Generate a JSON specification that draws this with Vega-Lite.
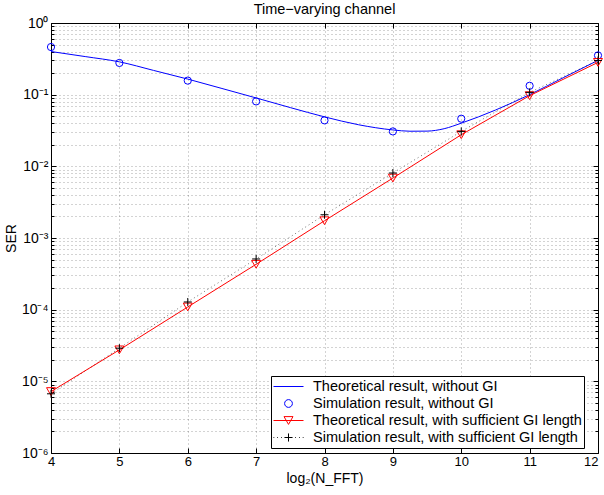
{
  "$schema": "https://vega.github.io/schema/vega-lite/v6.json",
  "width": 547,
  "height": 430,
  "autosize": {"type": "none"},
  "padding": {"left": 51, "top": 23, "right": 6, "bottom": 42},
  "title": {"text": "Time−varying channel", "fontSize": 14.5, "fontWeight": "normal", "font": "Liberation Sans", "color": "#000", "anchor": "middle", "offset": -1},
  "config": {
    "font": "Liberation Sans",
    "view": {"stroke": "#000", "strokeWidth": 1},
    "axis": {
      "labelFont": "Liberation Sans", "labelFontSize": 14, "labelColor": "#000",
      "titleFont": "Liberation Sans", "titleFontSize": 14, "titleFontWeight": "normal", "titleColor": "#000",
      "tickColor": "#000", "tickWidth": 1, "domain": false,
      "gridColor": "#000", "gridOpacity": 0.35, "gridDash": [1, 3], "gridWidth": 1,
      "labelFlush": false, "labelOverlap": false
    }
  },
  "data": {
    "values": [
      {"series": "Theoretical result, without GI", "x": 4, "y": 0.40},
      {"series": "Theoretical result, without GI", "x": 4.5, "y": 0.34},
      {"series": "Theoretical result, without GI", "x": 5, "y": 0.287},
      {"series": "Theoretical result, without GI", "x": 5.5, "y": 0.218},
      {"series": "Theoretical result, without GI", "x": 6, "y": 0.165},
      {"series": "Theoretical result, without GI", "x": 6.5, "y": 0.122},
      {"series": "Theoretical result, without GI", "x": 7, "y": 0.090},
      {"series": "Theoretical result, without GI", "x": 7.5, "y": 0.066},
      {"series": "Theoretical result, without GI", "x": 8, "y": 0.049},
      {"series": "Theoretical result, without GI", "x": 8.5, "y": 0.038},
      {"series": "Theoretical result, without GI", "x": 9, "y": 0.0322},
      {"series": "Theoretical result, without GI", "x": 9.25, "y": 0.0309},
      {"series": "Theoretical result, without GI", "x": 9.5, "y": 0.031},
      {"series": "Theoretical result, without GI", "x": 9.75, "y": 0.0335},
      {"series": "Theoretical result, without GI", "x": 10, "y": 0.040},
      {"series": "Theoretical result, without GI", "x": 10.5, "y": 0.061},
      {"series": "Theoretical result, without GI", "x": 11, "y": 0.100},
      {"series": "Theoretical result, without GI", "x": 11.5, "y": 0.174},
      {"series": "Theoretical result, without GI", "x": 12, "y": 0.301},
      {"series": "Simulation result, without GI", "x": 4, "y": 0.462},
      {"series": "Simulation result, without GI", "x": 5, "y": 0.277},
      {"series": "Simulation result, without GI", "x": 6, "y": 0.157},
      {"series": "Simulation result, without GI", "x": 7, "y": 0.0805},
      {"series": "Simulation result, without GI", "x": 8, "y": 0.0438},
      {"series": "Simulation result, without GI", "x": 9, "y": 0.0307},
      {"series": "Simulation result, without GI", "x": 10, "y": 0.0462},
      {"series": "Simulation result, without GI", "x": 11, "y": 0.133},
      {"series": "Simulation result, without GI", "x": 12, "y": 0.353},
      {"series": "Theoretical result, with sufficient GI length", "x": 4, "y": 0.0000072},
      {"series": "Theoretical result, with sufficient GI length", "x": 5, "y": 0.0000275},
      {"series": "Theoretical result, with sufficient GI length", "x": 6, "y": 0.000109},
      {"series": "Theoretical result, with sufficient GI length", "x": 7, "y": 0.00043},
      {"series": "Theoretical result, with sufficient GI length", "x": 8, "y": 0.00174},
      {"series": "Theoretical result, with sufficient GI length", "x": 9, "y": 0.00686},
      {"series": "Theoretical result, with sufficient GI length", "x": 10, "y": 0.0276},
      {"series": "Theoretical result, with sufficient GI length", "x": 11, "y": 0.0968},
      {"series": "Theoretical result, with sufficient GI length", "x": 12, "y": 0.282},
      {"series": "Simulation result, with sufficient GI length", "x": 4, "y": 0.0000067},
      {"series": "Simulation result, with sufficient GI length", "x": 5, "y": 0.000029},
      {"series": "Simulation result, with sufficient GI length", "x": 6, "y": 0.000128},
      {"series": "Simulation result, with sufficient GI length", "x": 7, "y": 0.00051},
      {"series": "Simulation result, with sufficient GI length", "x": 8, "y": 0.00211},
      {"series": "Simulation result, with sufficient GI length", "x": 9, "y": 0.00807},
      {"series": "Simulation result, with sufficient GI length", "x": 10, "y": 0.0307},
      {"series": "Simulation result, with sufficient GI length", "x": 11, "y": 0.1076},
      {"series": "Simulation result, with sufficient GI length", "x": 12, "y": 0.30}
    ]
  },
  "resolve": {"axis": {"x": "independent", "y": "independent"}},
  "layer": [
    {
      "transform": [{"filter": "datum.series === 'Theoretical result, without GI'"}],
      "mark": {"type": "line", "color": "#0000ff", "strokeWidth": 1, "interpolate": "monotone", "clip": true},
      "encoding": {
        "x": {"field": "x", "type": "quantitative", "scale": {"domain": [4, 12], "nice": false, "zero": false},
          "axis": {"orient": "bottom", "values": [4, 5, 6, 7, 8, 9, 10, 11, 12], "format": "d", "grid": true, "tickSize": -5, "labelPadding": 7, "labelFontSize": 13,
            "labelAlign": {"condition": {"test": "datum.value >= 12", "value": "right"}, "value": "center"},
            "title": "log₂(N_FFT)", "titlePadding": 3}},
        "y": {"field": "y", "type": "quantitative", "scale": {"type": "log", "domain": [0.000001, 1], "nice": false},
          "axis": {"orient": "left", "values": [0.000001, 0.00001, 0.0001, 0.001, 0.01, 0.1, 1], "grid": true, "tickSize": -5, "labelPadding": 8,
            "labelExpr": "'10' + ['⁻⁶','⁻⁵','⁻⁴','⁻³','⁻²','⁻¹','⁰'][round(log(datum.value)/LN10)+6]", "title": "SER", "titlePadding": 3}}
      }
    },
    {
      "transform": [{"filter": "datum.series === 'Simulation result, without GI'"}],
      "mark": {"type": "point", "shape": "circle", "filled": false, "color": "#0000ff", "size": 52, "strokeWidth": 1, "opacity": 1},
      "encoding": {
        "x": {"field": "x", "type": "quantitative", "scale": {"domain": [4, 12], "nice": false, "zero": false},
          "axis": {"orient": "top", "values": [4, 5, 6, 7, 8, 9, 10, 11, 12], "labels": false, "grid": false, "tickSize": -5, "title": null}},
        "y": {"field": "y", "type": "quantitative", "scale": {"type": "log", "domain": [0.000001, 1], "nice": false},
          "axis": {"orient": "right", "values": [0.000001, 0.00001, 0.0001, 0.001, 0.01, 0.1, 1], "labels": false, "grid": false, "tickSize": -5, "title": null}}
      }
    },
    {
      "transform": [{"filter": "datum.series === 'Simulation result, with sufficient GI length'"}],
      "mark": {"type": "line", "color": "#000000", "strokeWidth": 1, "strokeDash": [1, 3], "opacity": 0.55},
      "encoding": {
        "x": {"field": "x", "type": "quantitative", "scale": {"domain": [4, 12], "nice": false, "zero": false}, "axis": null},
        "y": {"field": "y", "type": "quantitative", "scale": {"type": "log", "domain": [0.000001, 1], "nice": false},
          "axis": {"orient": "left", "values": [0.000002,0.000003,0.000004,0.000005,0.000006,0.000007,0.000008,0.000009,0.00002,0.00003,0.00004,0.00005,0.00006,0.00007,0.00008,0.00009,0.0002,0.0003,0.0004,0.0005,0.0006,0.0007,0.0008,0.0009,0.002,0.003,0.004,0.005,0.006,0.007,0.008,0.009,0.02,0.03,0.04,0.05,0.06,0.07,0.08,0.09,0.2,0.3,0.4,0.5,0.6,0.7,0.8,0.9], "labels": false, "grid": true, "tickSize": -3, "title": null}}
      }
    },
    {
      "transform": [{"filter": "datum.series === 'Theoretical result, with sufficient GI length'"}],
      "mark": {"type": "line", "color": "#ff0000", "strokeWidth": 1},
      "encoding": {
        "x": {"field": "x", "type": "quantitative", "scale": {"domain": [4, 12], "nice": false, "zero": false}, "axis": null},
        "y": {"field": "y", "type": "quantitative", "scale": {"type": "log", "domain": [0.000001, 1], "nice": false},
          "axis": {"orient": "right", "values": [0.000002,0.000003,0.000004,0.000005,0.000006,0.000007,0.000008,0.000009,0.00002,0.00003,0.00004,0.00005,0.00006,0.00007,0.00008,0.00009,0.0002,0.0003,0.0004,0.0005,0.0006,0.0007,0.0008,0.0009,0.002,0.003,0.004,0.005,0.006,0.007,0.008,0.009,0.02,0.03,0.04,0.05,0.06,0.07,0.08,0.09,0.2,0.3,0.4,0.5,0.6,0.7,0.8,0.9], "labels": false, "grid": false, "tickSize": -3, "title": null}}
      }
    },
    {
      "transform": [{"filter": "datum.series === 'Theoretical result, with sufficient GI length'"}],
      "mark": {"type": "point", "shape": "triangle-down", "filled": false, "color": "#ff0000", "size": 80, "strokeWidth": 1, "opacity": 1},
      "encoding": {
        "x": {"field": "x", "type": "quantitative", "scale": {"domain": [4, 12], "nice": false, "zero": false}, "axis": null},
        "y": {"field": "y", "type": "quantitative", "scale": {"type": "log", "domain": [0.000001, 1], "nice": false}, "axis": null}
      }
    },
    {
      "transform": [{"filter": "datum.series === 'Simulation result, with sufficient GI length'"}],
      "mark": {"type": "point", "shape": "M-1,0L1,0M0,-1L0,1", "filled": false, "color": "#000000", "size": 64, "strokeWidth": 1, "opacity": 1},
      "encoding": {
        "x": {"field": "x", "type": "quantitative", "scale": {"domain": [4, 12], "nice": false, "zero": false}, "axis": null},
        "y": {"field": "y", "type": "quantitative", "scale": {"type": "log", "domain": [0.000001, 1], "nice": false}, "axis": null}
      }
    },
    {
      "mark": {"type": "point", "filled": false, "opacity": 0},
      "encoding": {
        "x": {"field": "x", "type": "quantitative", "scale": {"domain": [4, 12], "nice": false, "zero": false}, "axis": null},
        "y": {"field": "y", "type": "quantitative", "scale": {"type": "log", "domain": [0.000001, 1], "nice": false}, "axis": null},
        "color": {"field": "series", "type": "nominal",
          "scale": {"domain": ["Theoretical result, without GI", "Simulation result, without GI", "Theoretical result, with sufficient GI length", "Simulation result, with sufficient GI length"],
                    "range": ["#0000ff", "#0000ff", "#ff0000", "#000000"]},
          "legend": {"title": null, "orient": "none", "legendX": 220, "legendY": 353, "fillColor": "#ffffff", "strokeColor": "#000000", "padding": 2,
                     "symbolSize": 900, "symbolStrokeWidth": 1, "symbolFillColor": "transparent", "symbolOpacity": 1,
                     "labelFont": "Liberation Sans", "labelFontSize": 14.5, "labelColor": "#000", "labelOffset": 9, "labelLimit": 400,
                     "clipHeight": 17, "rowPadding": 0, "symbolOffset": 0}},
        "shape": {"field": "series", "type": "nominal",
          "scale": {"domain": ["Theoretical result, without GI", "Simulation result, without GI", "Theoretical result, with sufficient GI length", "Simulation result, with sufficient GI length"],
                    "range": ["M-1,0L1,0",
                              "M-0.26,0A0.26,0.26 0 1,0 0.26,0A0.26,0.26 0 1,0 -0.26,0Z",
                              "M-1,0L1,0M0,0.26L0.3,-0.26L-0.3,-0.26Z",
                              "M-1,0L-0.95,0M-0.75,0L-0.7,0M-0.5,0L-0.45,0M0.45,0L0.5,0M0.7,0L0.75,0M0.95,0L1,0M-0.27,0L0.27,0M0,-0.27L0,0.27"]},
          "legend": {"title": null, "orient": "none", "legendX": 220, "legendY": 353, "fillColor": "#ffffff", "strokeColor": "#000000", "padding": 2,
                     "symbolSize": 900, "symbolStrokeWidth": 1, "symbolFillColor": "transparent", "symbolOpacity": 1,
                     "labelFont": "Liberation Sans", "labelFontSize": 14.5, "labelColor": "#000", "labelOffset": 9, "labelLimit": 400,
                     "clipHeight": 17, "rowPadding": 0, "symbolOffset": 0}}
      }
    }
  ]
}
